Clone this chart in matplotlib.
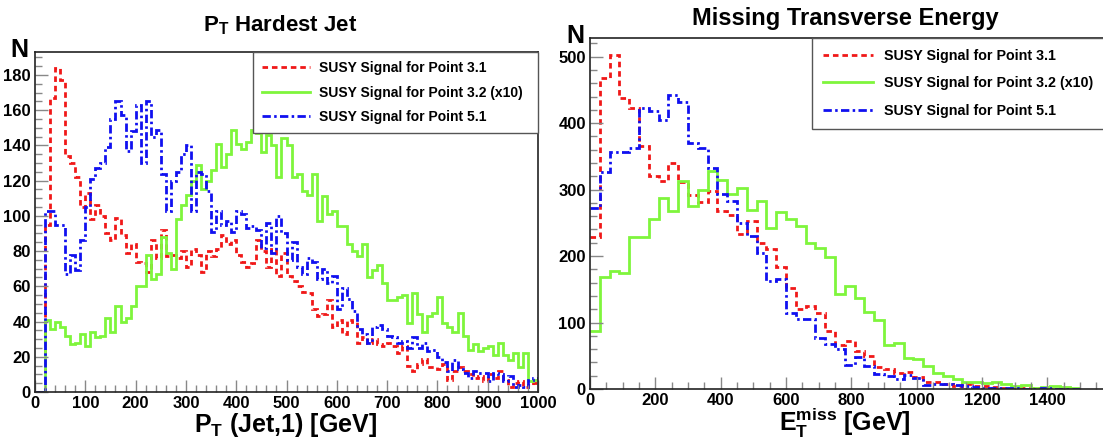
import numpy as np
import matplotlib
matplotlib.use("Agg")
import matplotlib.pyplot as plt
from matplotlib.ticker import MultipleLocator

plt.rcParams['font.family'] = ['Liberation Sans', 'DejaVu Sans']
plt.rcParams['font.weight'] = 'bold'
plt.rcParams['mathtext.fontset'] = 'custom'
plt.rcParams['mathtext.rm'] = 'Liberation Sans:bold'
plt.rcParams['mathtext.it'] = 'Liberation Sans:bold'
plt.rcParams['mathtext.bf'] = 'Liberation Sans:bold'

LABELS = ["SUSY Signal for Point 3.1",
          "SUSY Signal for Point 3.2 (x10)",
          "SUSY Signal for Point 5.1"]

# hardest jet pT, 10 GeV bins from 0 to 1000
jet_bin = 10
jet_p31 = [0, 0, 95, 167, 184, 177, 134, 130, 122, 105,
           113, 98, 106, 100, 90, 86, 99, 89, 79, 84,
           74, 73, 68, 86, 76, 92, 77, 78, 76, 80,
           71, 81, 78, 68, 80, 77, 81, 89, 84, 86,
           78, 74, 71, 73, 86, 80, 71, 81, 66, 79,
           66, 63, 60, 57, 56, 47, 43, 44, 52, 37,
           41, 33, 41, 40, 28, 31, 28, 30, 27, 26,
           28, 26, 22, 26, 15, 12, 16, 19, 14, 14,
           13, 16, 7, 12, 14, 12, 10, 8, 9, 6,
           10, 8, 12, 7, 3, 5, 6, 3, 4, 5]
jet_p32 = [0, 0, 41, 36, 40, 37, 32, 27, 28, 33,
           26, 34, 31, 32, 42, 34, 49, 40, 42, 49,
           60, 60, 78, 64, 67, 88, 79, 70, 98, 106,
           112, 120, 129, 115, 120, 126, 141, 128, 135, 149,
           141, 138, 142, 149, 147, 136, 146, 140, 122, 144,
           140, 122, 124, 114, 112, 124, 97, 111, 101, 103,
           94, 94, 84, 80, 77, 84, 65, 69, 72, 62,
           52, 52, 54, 55, 39, 56, 44, 34, 43, 45,
           54, 39, 37, 34, 45, 32, 24, 27, 23, 25,
           26, 21, 28, 21, 18, 22, 14, 22, 6, 7]
jet_p51 = [0, 0, 103, 103, 95, 95, 67, 78, 69, 86,
           105, 121, 127, 130, 139, 155, 165, 157, 137, 148,
           163, 130, 165, 145, 149, 124, 103, 120, 125, 135,
           140, 103, 125, 124, 114, 91, 103, 95, 97, 91,
           103, 101, 93, 94, 92, 82, 96, 79, 100, 90,
           75, 85, 71, 67, 76, 74, 64, 70, 62, 66,
           47, 59, 53, 46, 36, 33, 28, 37, 38, 36,
           32, 31, 28, 29, 25, 31, 25, 28, 23, 24,
           20, 17, 12, 18, 13, 11, 8, 12, 11, 11,
           6, 11, 10, 6, 9, 3, 4, 3, 7, 8]

# missing transverse energy, 30 GeV bins from 0 to 1500
met_bin = 30
met_p31 = [228, 468, 503, 437, 422, 365, 320, 313, 340, 312,
           292, 282, 298, 268, 262, 233, 252, 220, 210, 184,
           152, 120, 125, 114, 87, 66, 72, 57, 50, 33,
           30, 24, 26, 18, 11, 10, 8, 5, 8, 5,
           4, 3, 2, 1, 2, 1, 1, 0.5, 1, 0]
met_p32 = [88, 168, 178, 175, 229, 229, 255, 288, 268, 313,
           275, 300, 328, 314, 293, 303, 270, 283, 242, 266,
           256, 245, 219, 212, 199, 143, 155, 137, 116, 104,
           66, 69, 47, 45, 34, 24, 19, 15, 11, 10,
           9, 11, 8, 5, 6, 2, 3, 4, 3, 2]
met_p51 = [272, 327, 356, 357, 363, 423, 418, 405, 442, 432,
           370, 362, 333, 293, 283, 250, 230, 205, 162, 165,
           114, 106, 105, 77, 67, 60, 36, 48, 35, 23,
           20, 15, 21, 17, 6, 8, 7, 6, 4, 3,
           2, 1, 1, 2, 0.5, 0.5, 1, 0.5, 0.5, 0.5]

RED = '#f01818'
GREEN = '#7ff53c'
BLUE = '#1010f0'
STYLES = [dict(color=RED, linestyle=(0, (2.0, 1.4))),
          dict(color=GREEN, linestyle='-'),
          dict(color=BLUE, linestyle=(0, (3.0, 1.2, 0.9, 1.2)))]
LW = 2.0


def draw_hists(ax, series, width):
    for vals, st in zip(series, STYLES):
        vals = np.asarray(vals, dtype=float)
        edges = np.arange(len(vals) + 1) * width
        ax.stairs(vals, edges, baseline=None, linewidth=LW, **st)


def style_axes(ax, xmaj, xmin, ymaj, ymin):
    ax.xaxis.set_major_locator(MultipleLocator(xmaj))
    ax.xaxis.set_minor_locator(MultipleLocator(xmin))
    ax.yaxis.set_major_locator(MultipleLocator(ymaj))
    ax.yaxis.set_minor_locator(MultipleLocator(ymin))
    ax.tick_params(which='major', direction='in', length=9, width=1, color='#888888',
                   labelsize=12, pad=3)
    ax.tick_params(which='minor', direction='in', length=5, width=1, color='#888888')
    for sp in ax.spines.values():
        sp.set_linewidth(1.2)
        sp.set_color('#222222')
    for lab in ax.get_xticklabels() + ax.get_yticklabels():
        lab.set_fontweight('bold')


def add_legend(ax, x0, y0, size, spacing, hlen, pad, tpad):
    lines = [plt.Line2D([], [], linewidth=LW, **st) for st in STYLES]
    leg = ax.legend(lines, LABELS, loc='upper left', bbox_to_anchor=(x0, y0, 1.0 - x0, 1.0 - y0),
                    mode='expand', borderaxespad=0, fancybox=False, framealpha=1,
                    edgecolor='#555555', handlelength=hlen, handletextpad=tpad,
                    labelspacing=spacing, borderpad=pad, prop={'weight': 'bold', 'size': size})
    leg.get_frame().set_linewidth(1.0)
    return leg


fig = plt.figure(figsize=(11.03, 4.42), dpi=100)

# left: hardest jet pT
ax1 = fig.add_axes([35 / 1103, 50 / 442, 503 / 1103, 340 / 442])
draw_hists(ax1, [jet_p31, jet_p32, jet_p51], jet_bin)
ax1.set_xlim(0, 1000)
ax1.set_ylim(0, 193)
style_axes(ax1, 100, 20, 20, 5)
add_legend(ax1, 0.433, 0.776, 10, 0.76, 3.45, 0.65, 0.7)
fig.text(280 / 1103, 1 - 25 / 442, r'P$_{\rm T}$ Hardest Jet', ha='center', va='center',
         fontsize=16, fontweight='bold')
fig.text(286 / 1103, 1 - 425 / 442, r'P$_{\rm T}$ (Jet,1) [GeV]', ha='center', va='center',
         fontsize=18, fontweight='bold')
fig.text(19 / 1103, 1 - 50 / 442, 'N', ha='center', va='center', fontsize=18, fontweight='bold')

# right: missing transverse energy (frame runs past the right edge of the picture)
ax2 = fig.add_axes([590 / 1103, 53 / 442, 516 / 1103, 351 / 442])
draw_hists(ax2, [met_p31, met_p32, met_p51], met_bin)
ax2.set_xlim(0, 1580)
ax2.set_ylim(0, 528)
style_axes(ax2, 200, 50, 100, 20)
add_legend(ax2, 0.4305, 0.755, 10.3, 0.96, 3.5, 0.75, 0.77)
fig.text(845 / 1103, 1 - 19 / 442, 'Missing Transverse Energy', ha='center', va='center',
         fontsize=17, fontweight='bold')
fig.text(845 / 1103, 1 - 423 / 442, r'E$_{\rm T}^{\rm miss}$ [GeV]', ha='center', va='center',
         fontsize=18, fontweight='bold')
fig.text(575 / 1103, 1 - 36 / 442, 'N', ha='center', va='center', fontsize=18, fontweight='bold')

fig.savefig('out.png', dpi=100)
